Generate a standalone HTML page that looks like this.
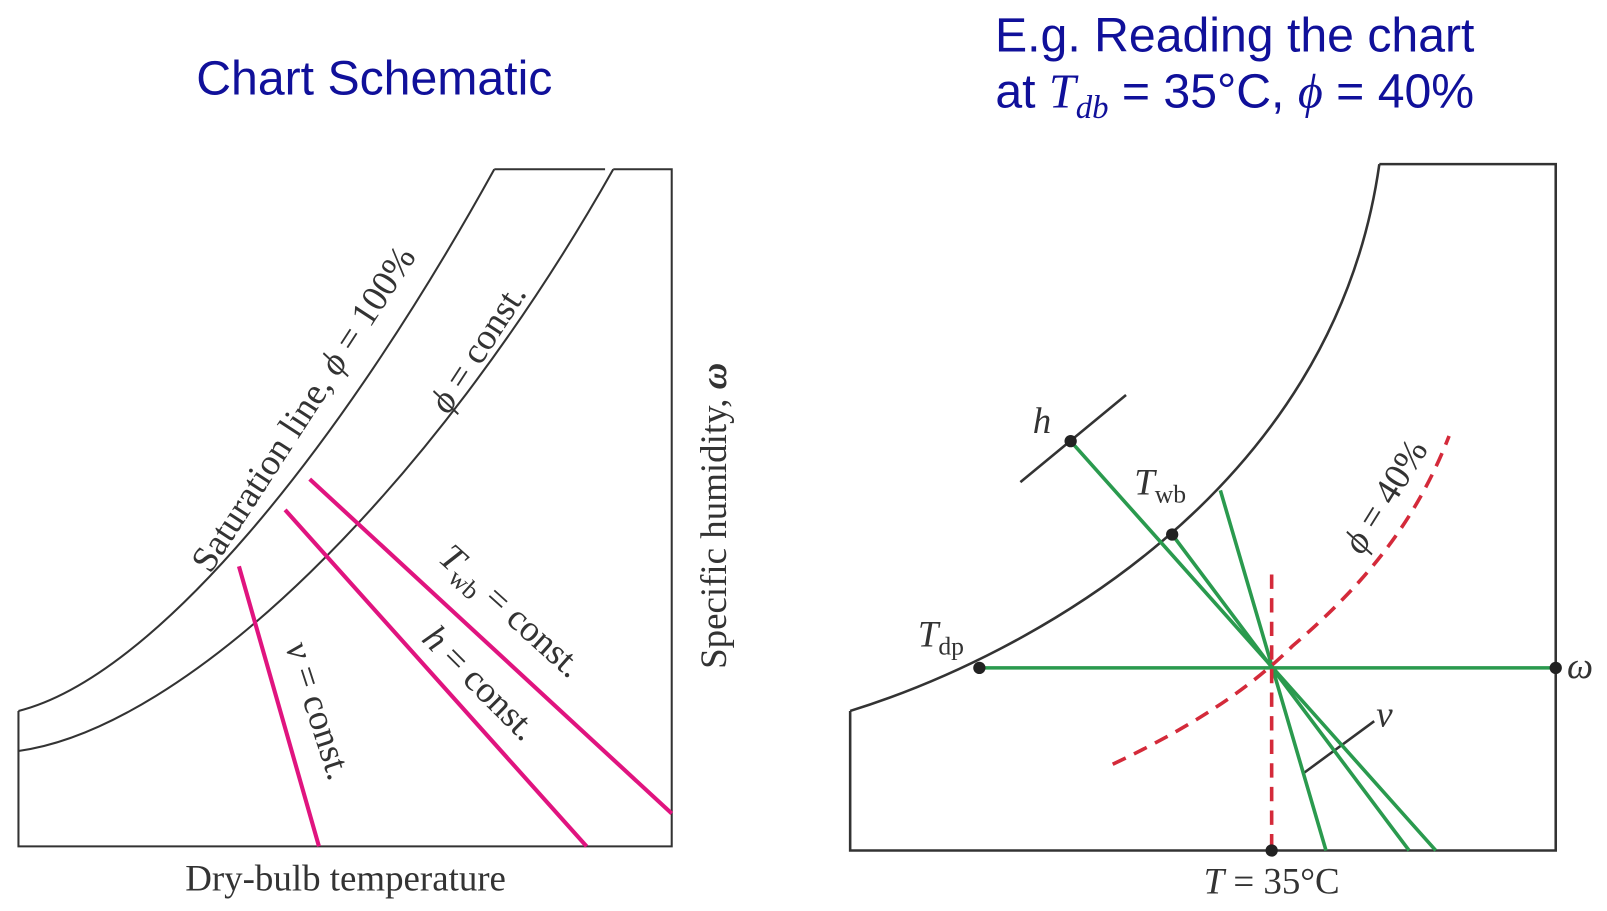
<!DOCTYPE html>
<html><head><meta charset="utf-8"><style>
html,body{margin:0;padding:0;background:#fff;}
svg{display:block;}
.t{font-family:"Liberation Sans",sans-serif;fill:#10109a;font-size:47px;}
.s{font-family:"Liberation Serif",serif;fill:#333;}
</style></head><body>
<svg width="1607" height="911" viewBox="0 0 1567 888" preserveAspectRatio="none">
<text class="t" x="365" y="92" text-anchor="middle">Chart Schematic</text>
<text class="t" x="1204" y="50" text-anchor="middle">E.g. Reading the chart</text>
<text class="t" x="1204" y="105" text-anchor="middle">at <tspan font-family="Liberation Serif" font-style="italic">T</tspan><tspan font-family="Liberation Serif" font-style="italic" font-size="32" dy="10">db</tspan><tspan dy="-10"> = 35°C, </tspan><tspan font-family="Liberation Serif" font-style="italic">ϕ</tspan> = 40%</text>

<g fill="none" stroke="#333" stroke-width="2">
<path d="M18,693 L18,825 L655,825 L655,165 L598,165 M590,165 L482,165"/>
<path d="M18,693 C150,660 330,440 482,165"/>
<path d="M18,732 C180,710 420,480 598,165"/>
<g stroke="#e0147f" stroke-width="4">
<line x1="233" y1="552" x2="311" y2="825"/>
<line x1="278" y1="497" x2="572" y2="825"/>
<line x1="302" y1="467" x2="655" y2="793"/>
</g>
</g>
<g class="s" font-size="36">
<text transform="translate(205,560) rotate(-57)">Saturation line, <tspan font-style="italic">ϕ</tspan> = 100%</text>
<text transform="translate(437,405) rotate(-57)"><tspan font-style="italic">ϕ</tspan> = const.</text>
<text transform="translate(426,546) rotate(42)"><tspan font-style="italic">T</tspan><tspan font-size="25" dy="8">wb</tspan><tspan dy="-8"> = const.</tspan></text>
<text transform="translate(410,624) rotate(45)"><tspan font-style="italic">h</tspan> = const.</text>
<text transform="translate(278,630) rotate(72)"><tspan font-style="italic">v</tspan> = const.</text>
<text x="337" y="868" text-anchor="middle">Dry-bulb temperature</text>
<text transform="translate(708,652) rotate(-90)">Specific humidity, <tspan font-style="italic" font-weight="bold">ω</tspan></text>
</g>

<g fill="none" stroke="#333" stroke-width="2.5">
<path d="M829,693 L829,829 L1517,829 L1517,160 L1345,160"/>
<path d="M829,693 C1000,640 1300,480 1345,160"/>
<line x1="995" y1="470" x2="1098" y2="385"/>
<line x1="1272" y1="753" x2="1340" y2="703"/>
<g stroke="#2a9a4e" stroke-width="3.5">
<line x1="955" y1="651" x2="1517" y2="651"/>
<line x1="1044" y1="430" x2="1400" y2="829"/>
<line x1="1143" y1="521" x2="1374" y2="829"/>
<line x1="1190" y1="478" x2="1293" y2="829"/>
</g>
<g stroke="#d42a3a" stroke-width="3.5" stroke-dasharray="14,9">
<line x1="1240" y1="560" x2="1240" y2="829"/>
<path d="M1085,745 C1180,700 1230,660 1260,630 C1330,570 1380,510 1413,425"/>
</g>
<g fill="#222" stroke="none">
<circle cx="955" cy="651" r="6"/>
<circle cx="1044" cy="430" r="6"/>
<circle cx="1143" cy="521" r="6"/>
<circle cx="1517" cy="651" r="6"/>
<circle cx="1240" cy="829" r="6"/>
</g>
</g>
<g class="s" font-size="36">
<text x="1007" y="422" font-style="italic">h</text>
<text x="1106" y="482"><tspan font-style="italic">T</tspan><tspan font-size="25" dy="8">wb</tspan></text>
<text x="895" y="630"><tspan font-style="italic">T</tspan><tspan font-size="25" dy="8">dp</tspan></text>
<text x="1528" y="661" font-style="italic">ω</text>
<text x="1342" y="708" font-style="italic">v</text>
<text x="1240" y="871" text-anchor="middle"><tspan font-style="italic">T</tspan> = 35°C</text>
<text transform="translate(1328,542) rotate(-58)"><tspan font-style="italic">ϕ</tspan> = 40%</text>
</g>
</svg>
</body></html>
